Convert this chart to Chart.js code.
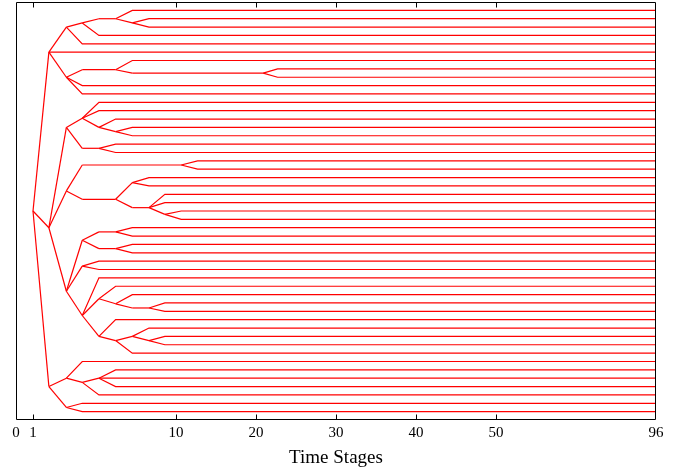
<!DOCTYPE html>
<html>
<head>
<meta charset="utf-8">
<script src="https://cdn.jsdelivr.net/npm/chart.js@4/dist/chart.umd.min.js"></script>
<style>
  html, body { margin: 0; padding: 0; background: #ffffff; }
  #wrap { width: 688px; height: 470px; }
</style>
</head>
<body>
<div id="wrap"><canvas id="c" width="688" height="470"></canvas></div>
<script>
// ---- Data ----
// Scenario tree nodes: time stage, vertical slot (scenario index), parent node
const nodeStage = [
  1, 2, 3.1, 4.1, 5.15, 6.2, 7.25, 7.25, 8.3, 8.3,
  5.15, 4.1, 3.1, 3.1, 4.1, 6.2, 7.25, 7.25, 20.9, 22.7,
  22.7, 4.1, 4.1, 2, 3.1, 4.1, 5.15, 5.15, 5.15, 6.2,
  6.2, 7.25, 7.25, 4.1, 5.15, 6.2, 6.2, 3.1, 4.1, 10.65,
  12.7, 12.7, 4.1, 6.2, 7.25, 8.3, 8.3, 7.25, 8.3, 9.3,
  9.3, 9.3, 10.65, 10.65, 3.1, 4.1, 5.15, 6.2, 7.25, 7.25,
  5.15, 6.2, 7.25, 7.25, 4.1, 5.15, 5.15, 4.1, 5.15, 5.15,
  6.2, 6.2, 7.25, 7.25, 8.3, 9.3, 9.3, 5.15, 6.2, 6.2,
  7.25, 8.3, 8.3, 9.3, 9.3, 7.25, 2, 3.1, 4.1, 4.1,
  5.15, 6.2, 6.2, 6.2, 5.15, 3.1, 4.1, 4.1
];
const nodeLevel = [
  24, 5, 2, 1.5, 1, 1, 0, 1.5, 1, 2,
  3, 4, 5, 8, 7.1, 7.1, 6, 7.5, 7.5, 7,
  8, 9, 10, 26, 14, 12.9, 11, 12, 14, 13,
  14.5, 14, 15, 16.5, 16.5, 16, 17, 21.6, 18.5, 18.5,
  18, 19, 22.6, 22.6, 20.6, 20, 21, 23.6, 23.6, 22,
  23, 24.4, 24, 25, 33.6, 27.5, 26.5, 26.5, 26, 27,
  28.5, 28.5, 28, 29, 30.6, 30, 31, 36.5, 32, 34.5,
  33, 35.1, 34, 35.6, 35.6, 35, 36, 39, 37, 39.5,
  39, 38, 39.5, 39, 40, 41, 45, 44, 42, 44.5,
  44, 43, 44, 45, 46, 47.5, 47, 48
];
const nodeParent = [
  -1, 0, 1, 2, 3, 4, 5, 5, 7, 7,
  3, 2, 1, 1, 13, 14, 15, 15, 17, 18,
  18, 13, 13, 0, 23, 24, 25, 25, 25, 28,
  28, 30, 30, 24, 33, 34, 34, 23, 37, 38,
  39, 39, 37, 42, 43, 44, 44, 43, 47, 48,
  48, 48, 51, 51, 23, 54, 55, 56, 57, 57,
  55, 60, 61, 61, 54, 64, 64, 54, 67, 67,
  69, 69, 71, 71, 73, 74, 74, 67, 77, 77,
  79, 80, 80, 82, 82, 79, 0, 86, 87, 87,
  89, 90, 90, 90, 89, 86, 95, 95
];
const horizonStage = 96;
const stageTicks = [0, 1, 10, 20, 30, 40, 50, 96];
const axisTitle = 'Time Stages';

// ---- Non-uniform stage axis (piecewise linear, as in the original figure) ----
const axisBreaks = [0, 1, 10, 50, 96];
const axisFracs  = [0, 17 / 640, 160 / 640, 480 / 640, 1];
function stageToDecimal(v) {
  for (let i = 1; i < axisBreaks.length; i++) {
    if (v <= axisBreaks[i] || i === axisBreaks.length - 1) {
      const a = axisBreaks[i - 1], b = axisBreaks[i];
      return axisFracs[i - 1] + (v - a) / (b - a) * (axisFracs[i] - axisFracs[i - 1]);
    }
  }
  return 1;
}
function decimalToStage(d) {
  for (let i = 1; i < axisFracs.length; i++) {
    if (d <= axisFracs[i] || i === axisFracs.length - 1) {
      const a = axisFracs[i - 1], b = axisFracs[i];
      return axisBreaks[i - 1] + (d - a) / (b - a) * (axisBreaks[i] - axisBreaks[i - 1]);
    }
  }
  return axisBreaks[axisBreaks.length - 1];
}
class StageScale extends Chart.LinearScale {
  getPixelForValue(value) {
    return this.getPixelForDecimal(stageToDecimal(value));
  }
  getValueForPixel(pixel) {
    return decimalToStage(this.getDecimalForPixel(pixel));
  }
}
StageScale.id = 'stage';
Chart.register(StageScale);

// ---- Build one line per tree edge ----
const hasChild = new Array(nodeStage.length).fill(false);
nodeParent.forEach(p => { if (p >= 0) hasChild[p] = true; });
const datasets = [];
for (let i = 0; i < nodeStage.length; i++) {
  const pts = [];
  const p = nodeParent[i];
  if (p >= 0) pts.push({ x: nodeStage[p], y: nodeLevel[p] });
  pts.push({ x: nodeStage[i], y: nodeLevel[i] });
  if (!hasChild[i]) pts.push({ x: horizonStage, y: nodeLevel[i] });
  if (pts.length < 2) continue;
  datasets.push({
    data: pts,
    borderColor: '#ff0000',
    borderWidth: 1.2,
    pointRadius: 0,
    fill: false,
    tension: 0
  });
}

// frame with inward tick marks
const framePlugin = {
  id: 'frame',
  afterDraw(chart) {
    const { ctx, chartArea: a } = chart;
    const xs = chart.scales.x;
    ctx.save();
    ctx.strokeStyle = '#000000';
    ctx.lineWidth = 1;
    ctx.beginPath();
    const L = Math.round(a.left) + 0.5, R = Math.round(a.right) - 0.5;
    const T = Math.round(a.top) + 0.5, B = Math.round(a.bottom) - 0.5;
    ctx.moveTo(L, T); ctx.lineTo(R, T); ctx.lineTo(R, B); ctx.lineTo(L, B); ctx.closePath();
    xs.ticks.forEach(t => {
      if (t.value <= 0 || t.value >= horizonStage) return;
      const px = Math.round(xs.getPixelForValue(t.value)) + 0.5;
      ctx.moveTo(px, B); ctx.lineTo(px, B - 5);
      ctx.moveTo(px, T); ctx.lineTo(px, T + 5);
    });
    ctx.stroke();
    ctx.restore();
  }
};

new Chart(document.getElementById('c'), {
  type: 'line',
  data: { datasets },
  options: {
    responsive: false,
    animation: false,
    events: [],
    layout: { padding: { left: 16, right: 32, top: 2, bottom: 0 } },
    plugins: { legend: { display: false }, tooltip: { enabled: false } },
    scales: {
      x: {
        type: 'stage',
        min: 0,
        max: horizonStage,
        afterBuildTicks: scale => { scale.ticks = stageTicks.map(v => ({ value: v })); },
        grid: { display: false, drawTicks: false },
        border: { display: false },
        ticks: {
          autoSkip: false,
          maxRotation: 0,
          padding: 4,
          color: '#000000',
          font: { family: 'Liberation Serif', size: 15 },
          callback: v => String(v)
        },
        title: {
          display: true,
          text: axisTitle,
          color: '#000000',
          font: { family: 'Liberation Serif', size: 19 },
          padding: { top: 0.2, bottom: 1 }
        }
      },
      y: {
        type: 'linear',
        display: false,
        reverse: true,
        min: -1,
        max: 49
      }
    }
  },
  plugins: [framePlugin]
});
</script>
</body>
</html>
